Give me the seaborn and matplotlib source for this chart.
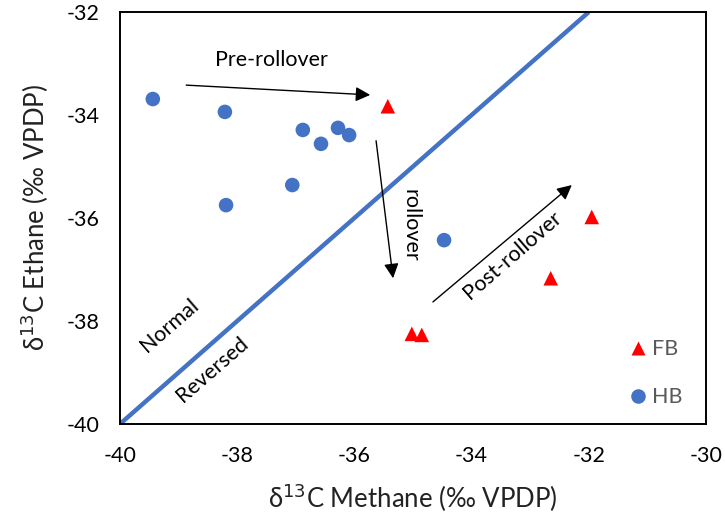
import matplotlib
matplotlib.use("Agg")
import matplotlib.pyplot as plt
import seaborn as sns
import pandas as pd

hb_x = [-39.44, -38.21, -36.88, -36.57, -36.28, -36.09, -37.06, -38.19, -34.47]
hb_y = [-33.69, -33.94, -34.29, -34.56, -34.25, -34.39, -35.36, -35.75, -36.43]
fb_x = [-35.43, -31.95, -32.65, -35.02, -34.85]
fb_y = [-33.83, -35.98, -37.17, -38.25, -38.27]
diag_x = [-40, -32]
diag_y = [-40, -32]
x_ticks = [-40, -38, -36, -34, -32, -30]
y_ticks = [-40, -38, -36, -34, -32]

df = pd.DataFrame({
    "x": fb_x + hb_x,
    "y": fb_y + hb_y,
    "grp": ["FB"] * len(fb_x) + ["HB"] * len(hb_x),
})

sns.set_theme(style="white")
plt.rcParams["font.family"] = ["Lato", "DejaVu Sans"]
plt.rcParams["axes.unicode_minus"] = False

fig = plt.figure(figsize=(7.25, 5.19), dpi=100)
ax = fig.add_axes([120 / 725, 1 - 424 / 519, 586 / 725, 412 / 519])

ax.plot(diag_x, diag_y, color="#4472C4", lw=3.2, solid_capstyle="butt", zorder=2)

sns.scatterplot(data=df, x="x", y="y", hue="grp", style="grp",
                markers={"FB": "^", "HB": "o"},
                palette={"FB": "#FF0000", "HB": "#4472C4"},
                s=110, edgecolor="none", ax=ax, zorder=3)

ax.set_xlim(-40, -30)
ax.set_ylim(-40, -32)
ax.set_xticks(x_ticks)
ax.set_yticks(y_ticks)
ax.tick_params(length=0, labelsize=15.5, colors="black")
ax.tick_params(axis="x", pad=16)
ax.tick_params(axis="y", pad=15)
for s in ax.spines.values():
    s.set_color("black")
    s.set_linewidth(1.4)

ax.set_xlabel("δ$^{13}$C Methane (‰ VPDP)", fontsize=18.5, color="#222222", labelpad=11)
ax.set_ylabel("δ$^{13}$C Ethane (‰ VPDP)", fontsize=18.5, color="#222222", labelpad=11)

ap = dict(arrowstyle="-|>", color="black", lw=1, mutation_scale=22, shrinkA=0, shrinkB=0)
ax.annotate("", xy=(-35.73, -33.61), xytext=(-38.87, -33.42), arrowprops=ap)
ax.annotate("", xy=(-35.34, -37.17), xytext=(-35.63, -34.50), arrowprops=ap)
ax.annotate("", xy=(-32.29, -35.36), xytext=(-34.66, -37.63), arrowprops=ap)

tk = dict(fontsize=15.5, color="black", ha="center", va="center")
ax.text(-37.41, -32.93, "Pre-rollover", **tk)
ax.text(-35.05, -36.14, "rollover", rotation=-90, **tk)
ax.text(-33.31, -36.72, "Post-rollover", rotation=41, **tk)
ax.text(-39.15, -38.08, "Normal", rotation=41, **tk)
ax.text(-38.43, -38.95, "Reversed", rotation=41, **tk)

leg = ax.legend(loc="lower right", frameon=False, fontsize=15.5, labelspacing=1.3,
                handlelength=1.0, handletextpad=0.15, borderaxespad=0.0, markerscale=1.0,
                bbox_to_anchor=(0.974, 0.02))
for t in leg.get_texts():
    t.set_color("#595959")

fig.savefig("out.png", dpi=100)
